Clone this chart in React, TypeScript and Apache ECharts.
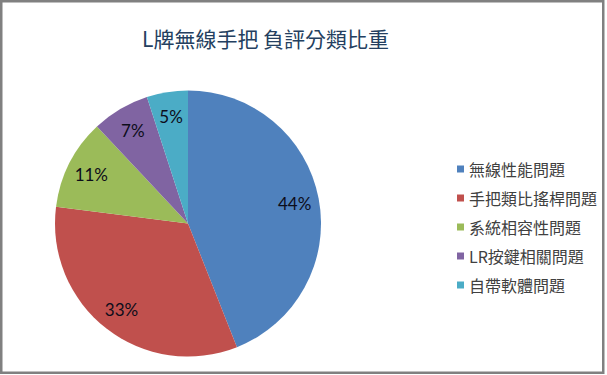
import React, { useEffect, useRef } from "react";
import * as echarts from "echarts";

const titleText = "L牌無線手把 負評分類比重";
const categories = ["無線性能問題", "手把類比搖桿問題", "系統相容性問題", "LR按鍵相關問題", "自帶軟體問題"];
const values = [44, 33, 11, 7, 5];
const colors = ["#4F81BD", "#C0504D", "#9BBB59", "#8064A2", "#4BACC6"];

export default function App() {
  const ref = useRef<HTMLDivElement>(null);
  useEffect(() => {
    document.body.style.margin = "0";
    const chart = echarts.init(ref.current!, undefined, { renderer: "svg" });
    const data = categories.map((name, i) => ({ name, value: values[i] }));
    chart.setOption({
      animation: false,
      color: colors,
      title: {
        text: titleText,
        left: 137,
        top: 22,
        textStyle: {
          fontFamily: "'Noto Sans CJK TC', sans-serif",
          fontSize: 21,
          fontWeight: "normal",
          color: "#243F60",
        },
      },
      legend: {
        orient: "vertical",
        left: 452,
        top: 156,
        itemWidth: 7,
        itemHeight: 7,
        itemGap: 13,
        icon: "rect",
        data: categories.map((name, i) => ({ name, itemStyle: { color: colors[i] } })),
        textStyle: {
          fontFamily: "'Noto Sans CJK TC', sans-serif",
          fontSize: 16,
          lineHeight: 16,
          color: "#404040",
        },
      },
      graphic: [
        {
          type: "rect",
          shape: { x: 1.25, y: 1.25, width: 602, height: 371.5 },
          style: { fill: "none", stroke: "#808080", lineWidth: 2.5 },
          z: 100,
        },
      ],
      series: [
        {
          type: "pie",
          center: [188, 223.5],
          radius: [0, 133],
          startAngle: 90,
          clockwise: true,
          data,
          label: { show: false },
          labelLine: { show: false },
          emphasis: { disabled: true },
        },
        {
          type: "pie",
          center: [188, 223.5],
          radius: [78, 133],
          startAngle: 90,
          clockwise: true,
          silent: true,
          data,
          itemStyle: { color: "transparent" },
          label: {
            show: true,
            position: "inside",
            formatter: (p: any) => p.value + "%",
            fontFamily: "Lato, sans-serif",
            fontSize: 17,
            color: "#0D0D1A",
          },
          labelLine: { show: false },
          emphasis: { disabled: true },
        },
      ],
    });
    return () => chart.dispose();
  }, []);
  return (
    <div
      ref={ref}
      style={{ position: "fixed", left: 0, top: 0, width: 607, height: 375, background: "#fff" }}
    />
  );
}
